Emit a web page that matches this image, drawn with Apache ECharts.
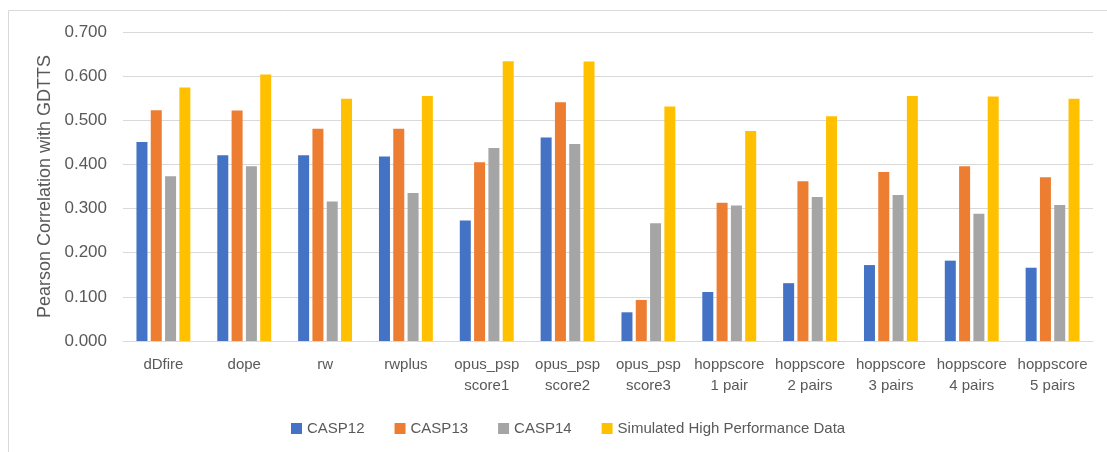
<!DOCTYPE html>
<html>
<head>
<meta charset="utf-8">
<script src="https://cdn.jsdelivr.net/npm/echarts@6/dist/echarts.min.js"></script>
<style>
html,body{margin:0;padding:0;background:#fff;}
#c{width:1107px;height:452px;}
</style>
</head>
<body>
<div id="c"></div>
<script>
const categories = ['dDfire','dope','rw','rwplus','opus_psp\nscore1','opus_psp\nscore2','opus_psp\nscore3','hoppscore\n1 pair','hoppscore\n2 pairs','hoppscore\n3 pairs','hoppscore\n4 pairs','hoppscore\n5 pairs'];
const casp12 = [0.451,0.421,0.421,0.418,0.273,0.461,0.065,0.111,0.131,0.172,0.182,0.166];
const casp13 = [0.523,0.522,0.481,0.481,0.405,0.541,0.093,0.313,0.362,0.383,0.396,0.371];
const casp14 = [0.373,0.396,0.316,0.335,0.437,0.446,0.267,0.307,0.326,0.331,0.288,0.308];
const simulated = [0.574,0.604,0.549,0.555,0.634,0.633,0.531,0.476,0.509,0.555,0.554,0.549];
const seriesNames = ['CASP12','CASP13','CASP14','Simulated High Performance Data'];
const colors = ['#4472C4','#ED7D31','#A5A5A5','#FFC000'];

const chart = echarts.init(document.getElementById('c'), null, {renderer:'canvas'});
const font = 'Liberation Sans, Arial, sans-serif';
const mk = (name, data, i) => ({
  name: name, type: 'bar', data: data, barWidth: 11, barGap: '30%',
  itemStyle: {color: colors[i]}
});
chart.setOption({
  animation: false,
  textStyle: {fontFamily: font},
  graphic: [{
    type: 'rect', shape: {x: 8.5, y: 10.5, width: 1110, height: 460},
    style: {fill: 'none', stroke: '#d9d9d9', lineWidth: 1}, silent: true
  }],
  grid: {left: 123, right: 14, top: 32, bottom: 111, containLabel: false},
  legend: {
    data: seriesNames, left: 286, top: 416, itemWidth: 11, itemHeight: 11, itemGap: 30,
    icon: 'rect', textStyle: {fontSize: 15, color: '#595959', fontFamily: font}
  },
  xAxis: {
    type: 'category', data: categories,
    axisLine: {lineStyle: {color: '#d9d9d9', width: 1}},
    axisTick: {show: false},
    axisLabel: {color: '#595959', fontSize: 15, lineHeight: 21, margin: 13, interval: 0, fontFamily: font}
  },
  yAxis: {
    type: 'value', min: 0, max: 0.7, interval: 0.1,
    name: 'Pearson Correlation with GDTTS', nameLocation: 'middle', nameGap: 68,
    nameTextStyle: {fontSize: 18, color: '#595959', fontFamily: font},
    axisLabel: {formatter: v => v.toFixed(3), fontSize: 17, color: '#595959', margin: 16, fontFamily: font},
    splitLine: {lineStyle: {color: '#d9d9d9', width: 1}},
    axisLine: {show: false}, axisTick: {show: false}
  },
  series: [mk(seriesNames[0], casp12, 0), mk(seriesNames[1], casp13, 1), mk(seriesNames[2], casp14, 2), mk(seriesNames[3], simulated, 3)]
});
</script>
</body>
</html>
